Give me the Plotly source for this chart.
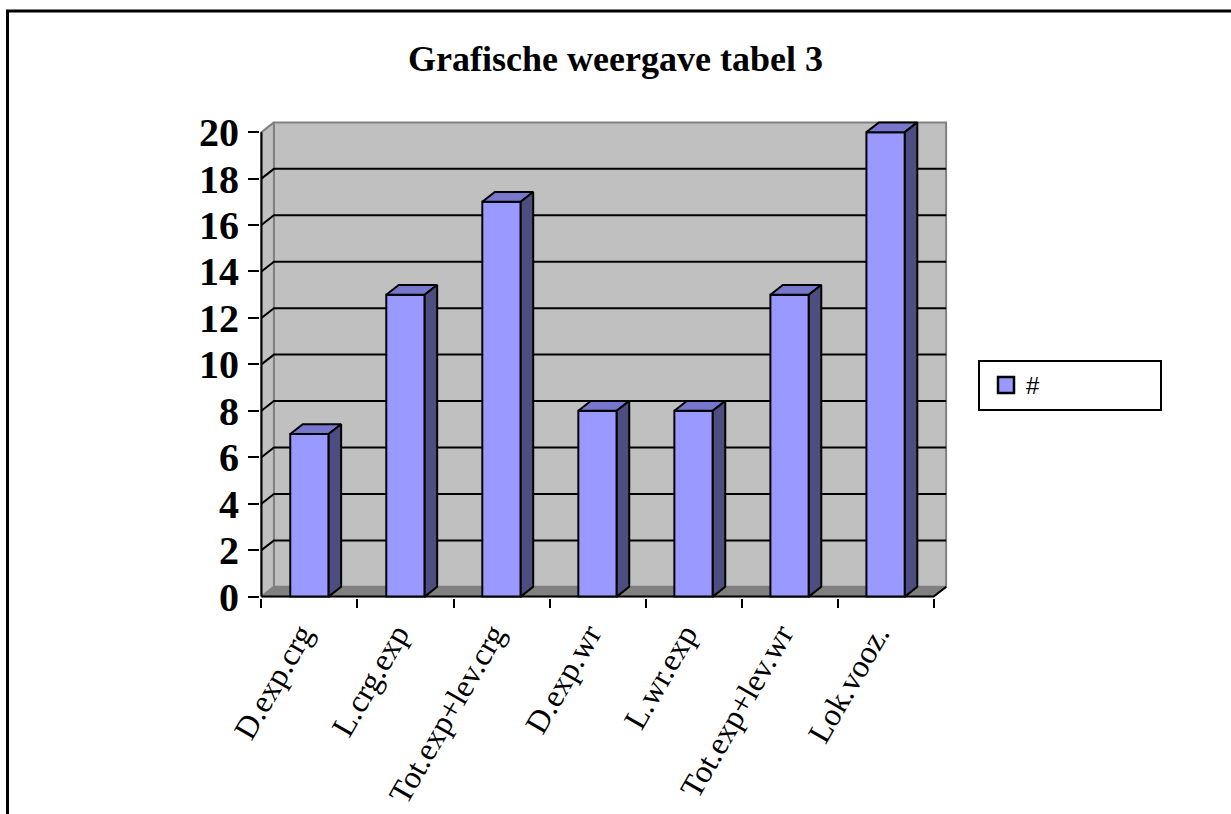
import plotly.graph_objects as go

categories = ["D.exp.crg", "L.crg.exp", "Tot.exp+lev.crg", "D.exp.wr", "L.wr.exp", "Tot.exp+lev.wr", "Lok.vooz."]
values = [7, 13, 17, 8, 8, 13, 20]
y_ticks = [0, 2, 4, 6, 8, 10, 12, 14, 16, 18, 20]
series_name = "#"
title_text = "Grafische weergave tabel 3"

# 3D look parameters (depth offsets in data units)
DX = 0.13
DY = 0.42
BAR_W = 0.4
YMAX = 20
n = len(categories)
xc = list(range(n))
x_left, x_right = -0.5, n - 0.5

FRONT = "#9999FF"
TOP = "#7777CC"
SIDE = "#4D4D80"
WALL = "#C0C0C0"
FLOOR = "#808080"

W, H = 1231, 814
L, R, T, B = 260, 282, 121, 216
PW, PH = W - L - R, H - T - B
fig = go.Figure()

def poly(xs, ys, fill, line="black", lw=2, z=0):
    fig.add_trace(go.Scatter(x=xs, y=ys, mode="lines", fill="toself", fillcolor=fill,
                             line=dict(color=line, width=lw), hoverinfo="skip",
                             showlegend=False, zorder=z))

def seg(xs, ys, color="black", lw=2, z=0):
    fig.add_trace(go.Scatter(x=xs, y=ys, mode="lines", line=dict(color=color, width=lw),
                             hoverinfo="skip", showlegend=False, zorder=z))

# back wall
poly([x_left + DX, x_right + DX, x_right + DX, x_left + DX, x_left + DX],
     [DY, DY, YMAX + DY, YMAX + DY, DY], WALL, line="#808080", lw=2, z=0)
# left side wall
poly([x_left, x_left + DX, x_left + DX, x_left, x_left],
     [0, DY, YMAX + DY, YMAX, 0], WALL, line="#808080", lw=2, z=0)
# gridlines
for v in y_ticks[1:-1]:
    seg([x_left, x_left + DX, x_right + DX], [v, v + DY, v + DY], z=1)
# floor
poly([x_left, x_right, x_right + DX, x_left + DX, x_left],
     [0, 0, DY, DY, 0], FLOOR, line="#808080", lw=1.5, z=1)
# front axes
seg([x_left, x_left], [0, YMAX], z=2)
seg([x_left, x_right, x_right + DX], [0, 0, DY], z=2)

# bars (front faces)
fig.add_trace(go.Bar(x=xc, y=values, width=BAR_W, name=series_name,
                     marker=dict(color=FRONT, line=dict(color="black", width=2)),
                     showlegend=False, zorder=3))
# 3D top and side faces
for x, v in zip(xc, values):
    x0, x1 = x - BAR_W / 2, x + BAR_W / 2
    poly([x0, x0 + DX, x1 + DX, x1, x0], [v, v + DY, v + DY, v, v], TOP, z=4)
    poly([x1, x1 + DX, x1 + DX, x1, x1], [0, DY, v + DY, v, 0], SIDE, z=4)

# legend entry
fig.add_trace(go.Scatter(x=[None], y=[None], mode="markers", name=series_name,
                         marker=dict(symbol="square", size=20, color=FRONT,
                                     line=dict(color="black", width=2.5)),
                         showlegend=True))

def px_x(p):
    return (p - L) / PW

def px_y(p):
    return (H - B - p) / PH

fig.update_layout(
    width=W, height=H,
    margin=dict(l=L, r=R, t=T, b=B, autoexpand=False),
    paper_bgcolor="white", plot_bgcolor="white",
    title=dict(text=title_text, x=0.5, xanchor="center",
               y=1 - 58 / H, yanchor="middle", automargin=False,
               font=dict(family="Liberation Serif", size=36, color="black", weight="bold")),
    xaxis=dict(range=[x_left - 0.015, x_right + DX + 0.03], tickmode="array",
               tickvals=[i - 0.5 for i in range(n + 1)], ticktext=[""] * (n + 1),
               ticks="outside", ticklen=9, tickwidth=2, tickcolor="black",
               automargin=False,
               showgrid=False, zeroline=False, showline=False, fixedrange=True),
    xaxis2=dict(range=[x_left - 0.015, x_right + DX + 0.03], overlaying="x",
                anchor="y", side="bottom", tickmode="array", tickvals=xc,
                ticktext=categories, tickangle=-60, ticks="",
                tickfont=dict(family="Liberation Serif", size=32, color="black"),
                ticklabelshift=-9, ticklabelstandoff=10, automargin=False,
                showgrid=False, zeroline=False, showline=False, fixedrange=True),
    yaxis=dict(range=[-0.06, YMAX + DY + 0.06], tickmode="array", tickvals=y_ticks,
               ticks="outside", ticklen=11, tickwidth=2, tickcolor="black",
               tickfont=dict(family="Liberation Serif", size=40, color="black", weight="bold"),
               showgrid=False, zeroline=False, showline=False, fixedrange=True,
               ticklabelstandoff=1, automargin=False),
    showlegend=True,
    legend=dict(x=px_x(986), y=px_y(363),
                xanchor="left", yanchor="top", bgcolor="rgba(0,0,0,0)",
                borderwidth=0,
                font=dict(family="Liberation Sans", size=24, color="black")),
    shapes=[dict(type="rect", xref="paper", yref="paper",
                 x0=px_x(7.5), x1=2.0, y0=-2.0, y1=px_y(11),
                 line=dict(color="black", width=3), layer="below"),
            dict(type="rect", xref="paper", yref="paper",
                 x0=px_x(979), x1=px_x(1161), y0=px_y(410), y1=px_y(361),
                 line=dict(color="black", width=2), fillcolor="white", layer="below")],
)
# dummy trace to show xaxis2 labels
fig.add_trace(go.Scatter(x=[None], y=[None], xaxis="x2", yaxis="y", showlegend=False,
                         hoverinfo="skip"))

fig.write_html("out.html", config={"displayModeBar": False},
               post_script="document.body.style.margin='0';")
